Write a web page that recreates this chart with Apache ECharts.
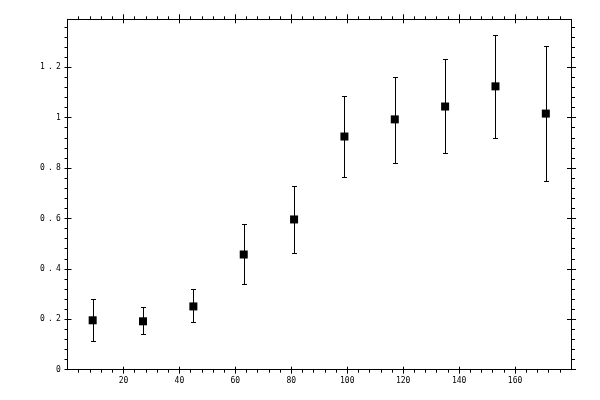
<!DOCTYPE html>
<html>
<head>
<meta charset="utf-8">
<script src="https://cdn.jsdelivr.net/npm/echarts@6/dist/echarts.min.js"></script>
<style>
  html, body { margin: 0; padding: 0; background: #fff; }
  #m1 { width: 600px; height: 400px; }
</style>
</head>
<body>
<div id="m1"></div>
<script>
// data
var xs = [9, 27, 45, 63, 81, 99, 117, 135, 153, 171];
var ys = [0.196, 0.192, 0.251, 0.457, 0.596, 0.925, 0.993, 1.044, 1.124, 1.016];
var lower = [0.113, 0.140, 0.188, 0.339, 0.461, 0.763, 0.818, 0.858, 0.921, 0.747];
var upper = [0.279, 0.247, 0.319, 0.579, 0.727, 1.086, 1.162, 1.231, 1.326, 1.283];

var xTicks = [20, 40, 60, 80, 100, 120, 140, 160];
var yTicks = [0, 0.2, 0.4, 0.6, 0.8, 1, 1.2];

var font = 'DejaVu Sans Mono';

function initChart() {
    var myChart = echarts.init(document.getElementById('m1'));

    var points = [];
    var bars = [];
    for (var i = 0; i < xs.length; i++) {
        points.push([xs[i], ys[i]]);
        bars.push([xs[i], lower[i], upper[i]]);
    }

    // one axis with ticks outward, a twin with ticks inward
    function xAx(pos, inside, len, minorLen) {
        return {
            type: 'value', position: pos, min: 0, max: 180, interval: 20,
            splitLine: { show: false },
            axisLine: { show: !inside, onZero: false, lineStyle: { color: '#000', width: 1 } },
            axisTick: { inside: inside, length: len, customValues: xTicks, lineStyle: { color: '#000', width: 1 } },
            minorTick: { show: !inside, splitNumber: 5, length: minorLen, lineStyle: { color: '#000', width: 1 } },
            axisLabel: {
                show: pos === 'bottom' && !inside, customValues: xTicks,
                margin: 7, fontSize: 8, fontFamily: font, color: '#000'
            }
        };
    }
    function yAx(pos, inside, len, minorLen) {
        return {
            type: 'value', position: pos, min: 0, max: 1.39, interval: 0.2,
            splitLine: { show: false },
            axisLine: { show: !inside, onZero: false, lineStyle: { color: '#000', width: 1 } },
            axisTick: { inside: inside, length: len, customValues: yTicks, lineStyle: { color: '#000', width: 1 } },
            minorTick: { show: !inside, splitNumber: 5, length: minorLen, lineStyle: { color: '#000', width: 1 } },
            axisLabel: {
                show: pos === 'left' && !inside, customValues: yTicks,
                margin: 5, color: '#000',
                formatter: function (v) {
                    return String(v).split('').map(function (c) { return '{c|' + c + '}'; }).join('');
                },
                rich: { c: { width: 8, align: 'center', fontSize: 8, fontFamily: font, color: '#000' } }
            }
        };
    }

    var option = {
        animation: false,
        backgroundColor: '#fff',
        grid: { left: 67.5, right: 29, top: 19.3, bottom: 30.3 },
        xAxis: [
            xAx('bottom', false, 4, 3),
            xAx('bottom', true, 3, 0),
            xAx('top', false, 5, 3),
            xAx('top', true, 4, 0)
        ],
        yAxis: [
            yAx('left', false, 3, 3),
            yAx('left', true, 4, 0),
            yAx('right', false, 5, 4),
            yAx('right', true, 4, 0)
        ],
        series: [
            {
                type: 'custom',
                xAxisIndex: 0, yAxisIndex: 0,
                data: bars,
                renderItem: function (params, api) {
                    var lo = api.coord([api.value(0), api.value(1)]);
                    var hi = api.coord([api.value(0), api.value(2)]);
                    var x = Math.round(lo[0]) + 0.5;
                    var y1 = Math.round(lo[1]) + 0.5;
                    var y2 = Math.round(hi[1]) + 0.5;
                    var st = { stroke: '#000', lineWidth: 1 };
                    return {
                        type: 'group',
                        children: [
                            { type: 'line', shape: { x1: x, y1: y1, x2: x, y2: y2 }, style: st },
                            { type: 'line', shape: { x1: x - 2.5, y1: y1, x2: x + 2.5, y2: y1 }, style: st },
                            { type: 'line', shape: { x1: x - 2.5, y1: y2, x2: x + 2.5, y2: y2 }, style: st }
                        ]
                    };
                },
                z: 2
            },
            {
                type: 'scatter',
                xAxisIndex: 0, yAxisIndex: 0,
                data: points,
                symbol: 'rect',
                symbolSize: 8,
                itemStyle: { color: '#000', opacity: 1 },
                z: 3
            }
        ]
    };

    myChart.setOption(option);
}

initChart();
</script>
</body>
</html>
